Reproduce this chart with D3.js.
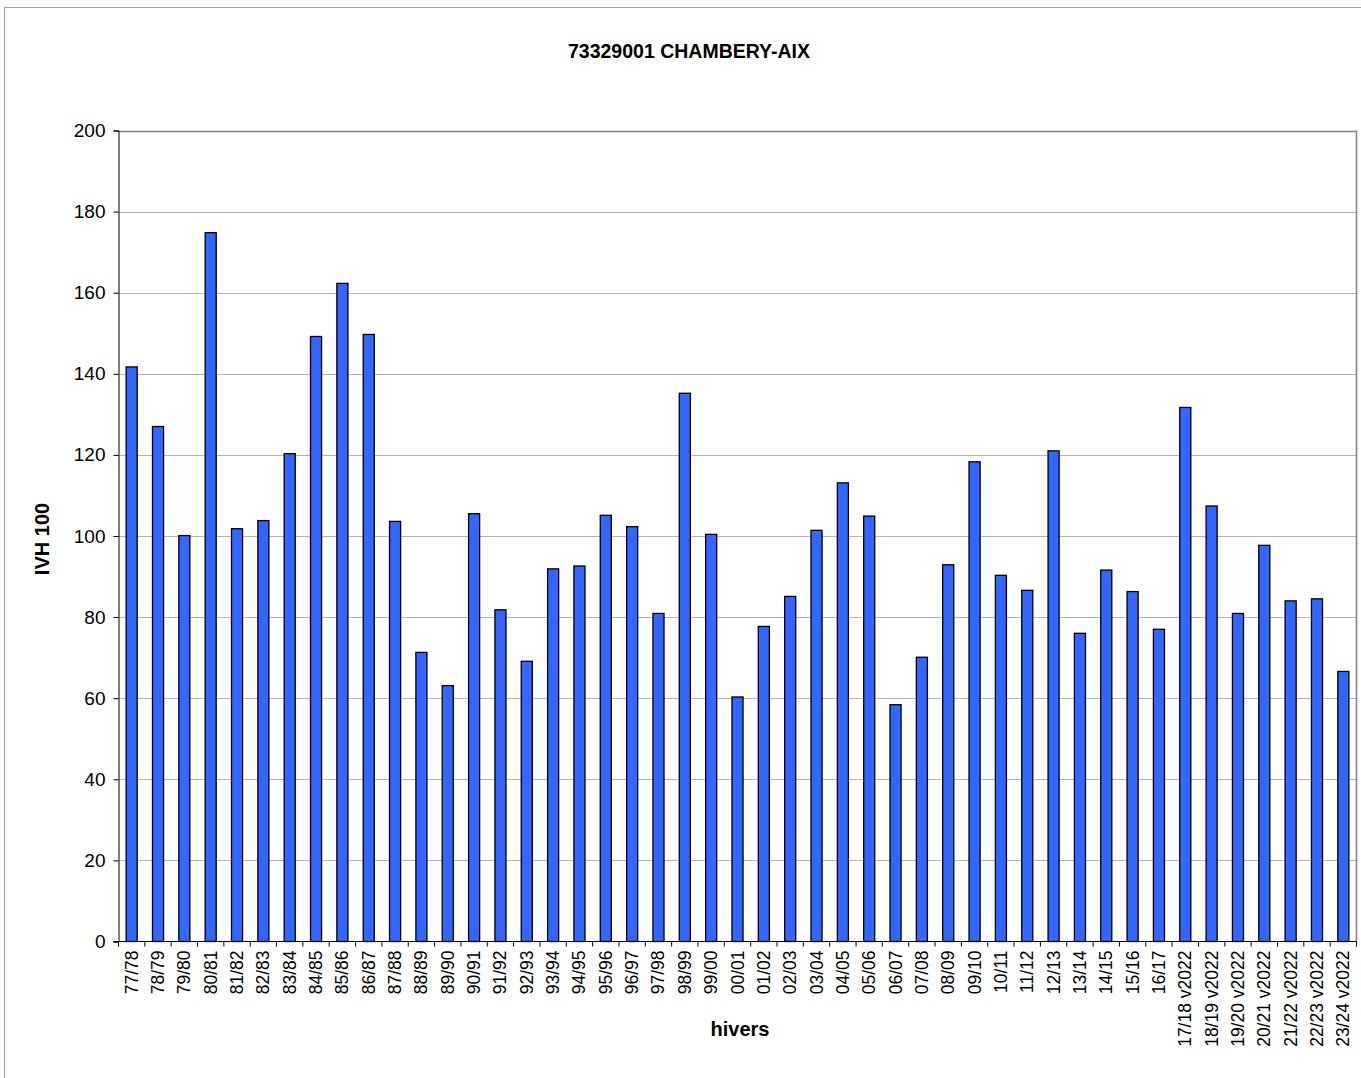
<!DOCTYPE html>
<html><head><meta charset="utf-8">
<script src="https://cdn.jsdelivr.net/npm/d3@7"></script>
<style>body{margin:0;background:#fff}svg{display:block}text{font-family:"Liberation Sans",Arial,sans-serif}</style>
</head><body>
<svg id="c" width="1361" height="1078"></svg>
<script>
const title = "73329001 CHAMBERY-AIX";
const yLabel = "IVH 100";
const xLabel = "hivers";
const categories = ["77/78","78/79","79/80","80/81","81/82","82/83","83/84","84/85","85/86","86/87","87/88","88/89","89/90","90/91","91/92","92/93","93/94","94/95","95/96","96/97","97/98","98/99","99/00","00/01","01/02","02/03","03/04","04/05","05/06","06/07","07/08","08/09","09/10","10/11","11/12","12/13","13/14","14/15","15/16","16/17","17/18 v2022","18/19 v2022","19/20 v2022","20/21 v2022","21/22 v2022","22/23 v2022","23/24 v2022"];
const values = [141.7,127.0,100.1,174.8,101.8,103.8,120.3,149.2,162.3,149.7,103.6,71.3,63.1,105.5,81.8,69.1,91.9,92.6,105.1,102.3,80.9,135.2,100.4,60.3,77.7,85.1,101.4,113.1,104.9,58.4,70.1,92.9,118.3,90.3,86.6,121.0,76.0,91.6,86.3,77.0,131.7,107.4,80.9,97.7,84.0,84.5,66.6];
const yTicks = [0,20,40,60,80,100,120,140,160,180,200];

const svg = d3.select("#c");
const L = 118.5, R = 1356.5, T = 130.5, B = 941.5;
const x = d3.scaleBand().domain(categories).range([L, R]).paddingInner(0.58).paddingOuter(0.29);
const y = d3.scaleLinear().domain([0, 200]).range([B, T]);

// outer frame
svg.append("path").attr("d", `M4.5,1078V7.5H1361`).attr("fill","none").attr("stroke","#a0a0a0").attr("stroke-width",1);

// gridlines
svg.append("g").selectAll("line").data(yTicks.filter(d => d > 0)).join("line")
  .attr("x1", L).attr("x2", R).attr("y1", d => Math.round(y(d)) + 0.5).attr("y2", d => Math.round(y(d)) + 0.5)
  .attr("stroke", d => d === 200 ? "#808080" : "#b4b4b4").attr("stroke-width", d => d === 200 ? 1.5 : 1);
// right border
svg.append("line").attr("x1", R).attr("x2", R).attr("y1", T).attr("y2", B).attr("stroke","#808080").attr("stroke-width",1.5);

// bars
svg.append("g").selectAll("rect").data(values).join("rect")
  .attr("x", (d,i) => x(categories[i]))
  .attr("width", x.bandwidth())
  .attr("y", d => y(d))
  .attr("height", d => B - y(d))
  .attr("fill", "#3366ff").attr("stroke", "#000").attr("stroke-width", 1.3);

// y axis
const yAxis = d3.axisLeft(y).tickValues(yTicks).tickSize(5).tickPadding(8).tickFormat(d3.format("d"));
const gy = svg.append("g").attr("transform", `translate(${L},0)`).call(yAxis);
gy.select(".domain").attr("stroke","#000");
gy.selectAll(".tick line").attr("stroke","#000");
gy.selectAll("text").attr("font-size", 19).attr("fill","#000").attr("font-family","Liberation Sans, Arial, sans-serif");

// x axis
const step = x.step();
const gx = svg.append("g").attr("transform", `translate(0,${B})`);
gx.append("line").attr("x1", L - 5).attr("x2", R).attr("stroke","#000");
gx.selectAll("line.tk").data(d3.range(categories.length + 1)).join("line").attr("class","tk")
  .attr("x1", i => L + i * step).attr("x2", i => L + i * step).attr("y1", 0).attr("y2", 5).attr("stroke","#000");
gx.selectAll("text").data(categories).join("text")
  .attr("transform", d => `translate(${x(d) + x.bandwidth()/2 + 6},9) rotate(-90)`)
  .attr("text-anchor","end").attr("font-size", 17.5).attr("fill","#000").text(d => d);

// titles
svg.append("text").attr("x", 689).attr("y", 58).attr("text-anchor","middle").attr("font-size",19.5).attr("font-weight","bold").text(title);
svg.append("text").attr("transform","translate(49,539) rotate(-90)").attr("text-anchor","middle").attr("font-size",20).attr("font-weight","bold").text(yLabel);
svg.append("text").attr("x", 740).attr("y", 1036).attr("text-anchor","middle").attr("font-size",20).attr("font-weight","bold").text(xLabel);
</script>
</body></html>
